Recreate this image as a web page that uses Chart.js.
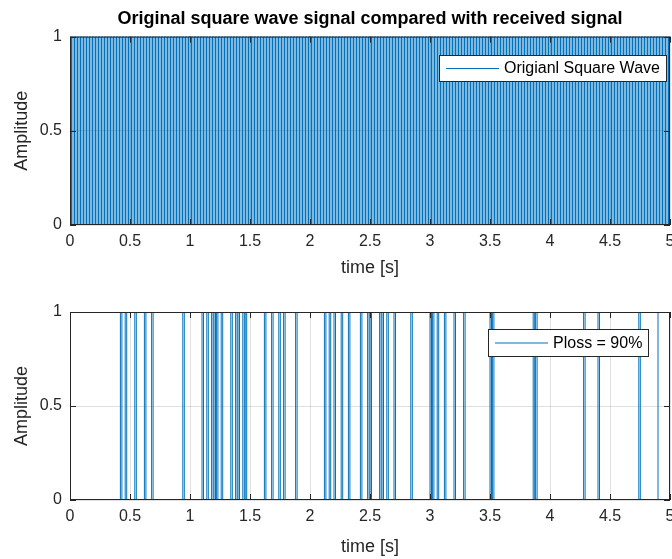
<!DOCTYPE html>
<html>
<head>
<meta charset="utf-8">
<title>Square wave vs received signal</title>
<script src="https://cdn.jsdelivr.net/npm/chart.js@4.4.1/dist/chart.umd.min.js"></script>
<style>
  html, body { margin: 0; padding: 0; background: #fff; }
  #wrap { position: relative; width: 672px; height: 559px; overflow: hidden; }
  canvas { position: absolute; left: 0; }
</style>
</head>
<body>
<div id="wrap">
  <canvas id="topChart" width="672" height="280" style="top:0"></canvas>
  <canvas id="bottomChart" width="672" height="279" style="top:280px"></canvas>
</div>
<script>
// DATA
const xTicks = [0, 0.5, 1, 1.5, 2, 2.5, 3, 3.5, 4, 4.5, 5];
const yTicks = [0, 0.5, 1];

// original square wave
const wavePeriod = 0.025;   // s
const waveCycles = 200;

// received signal: start of each surviving pulse (s), pulse lasts half a period
const pulseStart = [
  0.42, 0.46, 0.54, 0.62, 0.68, 0.94,
  1.10, 1.14, 1.18, 1.20, 1.22, 1.26,
  1.34, 1.38, 1.40, 1.44, 1.46,
  1.62, 1.68, 1.74, 1.78, 1.88,
  2.12, 2.16, 2.20, 2.26, 2.32, 2.42, 2.48, 2.50,
  2.58, 2.60, 2.64, 2.70, 2.84,
  3.00, 3.02, 3.06, 3.12, 3.20, 3.28,
  3.50, 3.52, 3.86, 3.88,
  4.28, 4.40, 4.74, 4.90
];

const lineBlue = '#0072BD';
const axisGrey = '#262626';
const gridColor = 'rgba(38,38,38,0.14)';
const fontFamily = '"Liberation Sans", Arial, Helvetica, sans-serif';
Chart.defaults.font.family = fontFamily;
Chart.defaults.color = axisGrey;

// build step data
const wavePoints = [];
for (let k = 0; k < waveCycles; k++) {
  wavePoints.push({ x: k * wavePeriod, y: 1 });
  wavePoints.push({ x: (k + 0.5) * wavePeriod, y: 0 });
}
wavePoints.push({ x: waveCycles * wavePeriod, y: 1 });

const rxPoints = [{ x: 0, y: 0 }];
pulseStart.forEach(s => {
  rxPoints.push({ x: s, y: 1 });
  rxPoints.push({ x: s + wavePeriod / 2, y: 0 });
});
rxPoints.push({ x: 5, y: 0 });

// box round the axes + inward tick marks
const boxPlugin = {
  id: 'box',
  afterDraw(chart) {
    const { ctx, chartArea: a } = chart;
    const sx = chart.scales.x, sy = chart.scales.y;
    ctx.save();
    ctx.strokeStyle = axisGrey;
    ctx.lineWidth = 1;
    ctx.strokeRect(a.left + 0.5, a.top + 0.5, a.right - a.left - 1, a.bottom - a.top - 1);
    ctx.beginPath();
    xTicks.forEach(v => {
      const px = Math.round(sx.getPixelForValue(v)) + 0.5;
      ctx.moveTo(px, a.bottom); ctx.lineTo(px, a.bottom - 6);
      ctx.moveTo(px, a.top); ctx.lineTo(px, a.top + 6);
    });
    yTicks.forEach(v => {
      const py = Math.round(sy.getPixelForValue(v)) + 0.5;
      ctx.moveTo(a.left, py); ctx.lineTo(a.left + 6, py);
      ctx.moveTo(a.right, py); ctx.lineTo(a.right - 6, py);
    });
    ctx.stroke();
    ctx.restore();
  }
};

// legend drawn inside the plot
const insideLegend = {
  id: 'insideLegend',
  afterDatasetsDraw(chart, args, opts) {
    const { ctx, chartArea: a } = chart;
    const label = chart.data.datasets[0].label;
    ctx.save();
    ctx.font = '16px ' + fontFamily;
    const tw = ctx.measureText(label).width;
    const w = Math.round(7 + opts.lineLen + 5 + tw + 6);
    const h = opts.height;
    const x = Math.round(a.right - opts.right - w);
    const y = Math.round(a.top + opts.top);
    ctx.fillStyle = '#fff';
    ctx.fillRect(x, y, w, h);
    ctx.strokeStyle = axisGrey;
    ctx.lineWidth = 1;
    ctx.strokeRect(x + 0.5, y + 0.5, w, h);
    ctx.strokeStyle = lineBlue;
    ctx.beginPath();
    ctx.moveTo(x + 7, y + h / 2 + 0.5);
    ctx.lineTo(x + 7 + opts.lineLen, y + h / 2 + 0.5);
    ctx.stroke();
    ctx.fillStyle = '#000';
    ctx.textBaseline = 'middle';
    ctx.fillText(label, x + 7 + opts.lineLen + 5, y + h / 2 + 1);
    ctx.restore();
  }
};

function xAxis(height) {
  return {
    type: 'linear', min: 0, max: 5,
    afterBuildTicks: s => { s.ticks = xTicks.map(v => ({ value: v })); },
    afterFit: s => { s.height = height; s.paddingLeft = 0; s.paddingRight = 0; },
    ticks: { font: { size: 16 }, padding: 7, maxRotation: 0, autoSkip: false, callback: v => String(v) },
    grid: { color: gridColor, drawTicks: false },
    border: { display: false },
    title: { display: true, text: 'time [s]', font: { size: 18 }, padding: { top: 0, bottom: 1 } }
  };
}

function yAxis() {
  return {
    type: 'linear', min: 0, max: 1,
    afterBuildTicks: s => { s.ticks = yTicks.map(v => ({ value: v })); },
    afterFit: s => { s.width = 70; s.paddingTop = 0; s.paddingBottom = 0; },
    ticks: { font: { size: 16 }, padding: 8, callback: v => String(v) },
    grid: { color: gridColor, drawTicks: false },
    border: { display: false },
    title: { display: true, text: 'Amplitude', font: { size: 18 }, padding: { top: 11, bottom: 0 } }
  };
}

const lineStyle = {
  borderColor: lineBlue,
  borderWidth: 1,
  pointRadius: 0,
  stepped: 'after',
  fill: false
};

new Chart(document.getElementById('topChart'), {
  type: 'line',
  data: { datasets: [Object.assign({ label: 'Origianl Square Wave', data: wavePoints }, lineStyle)] },
  options: {
    responsive: false,
    animation: false,
    parsing: false,
    layout: { padding: { left: 0, right: 2, top: 0, bottom: 0 } },
    scales: { x: xAxis(55), y: yAxis() },
    plugins: {
      legend: { display: false },
      tooltip: { enabled: false },
      title: {
        display: true,
        fullSize: false,
        text: 'Original square wave signal compared with received signal',
        color: '#000',
        font: { size: 18, weight: 'bold' },
        padding: { top: 8, bottom: 7 }
      },
      insideLegend: { right: 4, top: 18, height: 26, lineLen: 53 }
    }
  },
  plugins: [insideLegend, boxPlugin]
});

new Chart(document.getElementById('bottomChart'), {
  type: 'line',
  data: { datasets: [Object.assign({ label: 'Ploss = 90%', data: rxPoints }, lineStyle)] },
  options: {
    responsive: false,
    animation: false,
    parsing: false,
    layout: { padding: { left: 0, right: 2, top: 32, bottom: 0 } },
    scales: { x: xAxis(59), y: yAxis() },
    plugins: {
      legend: { display: false },
      tooltip: { enabled: false },
      insideLegend: { right: 22, top: 17, height: 27, lineLen: 53 }
    }
  },
  plugins: [insideLegend, boxPlugin]
});
</script>
</body>
</html>
